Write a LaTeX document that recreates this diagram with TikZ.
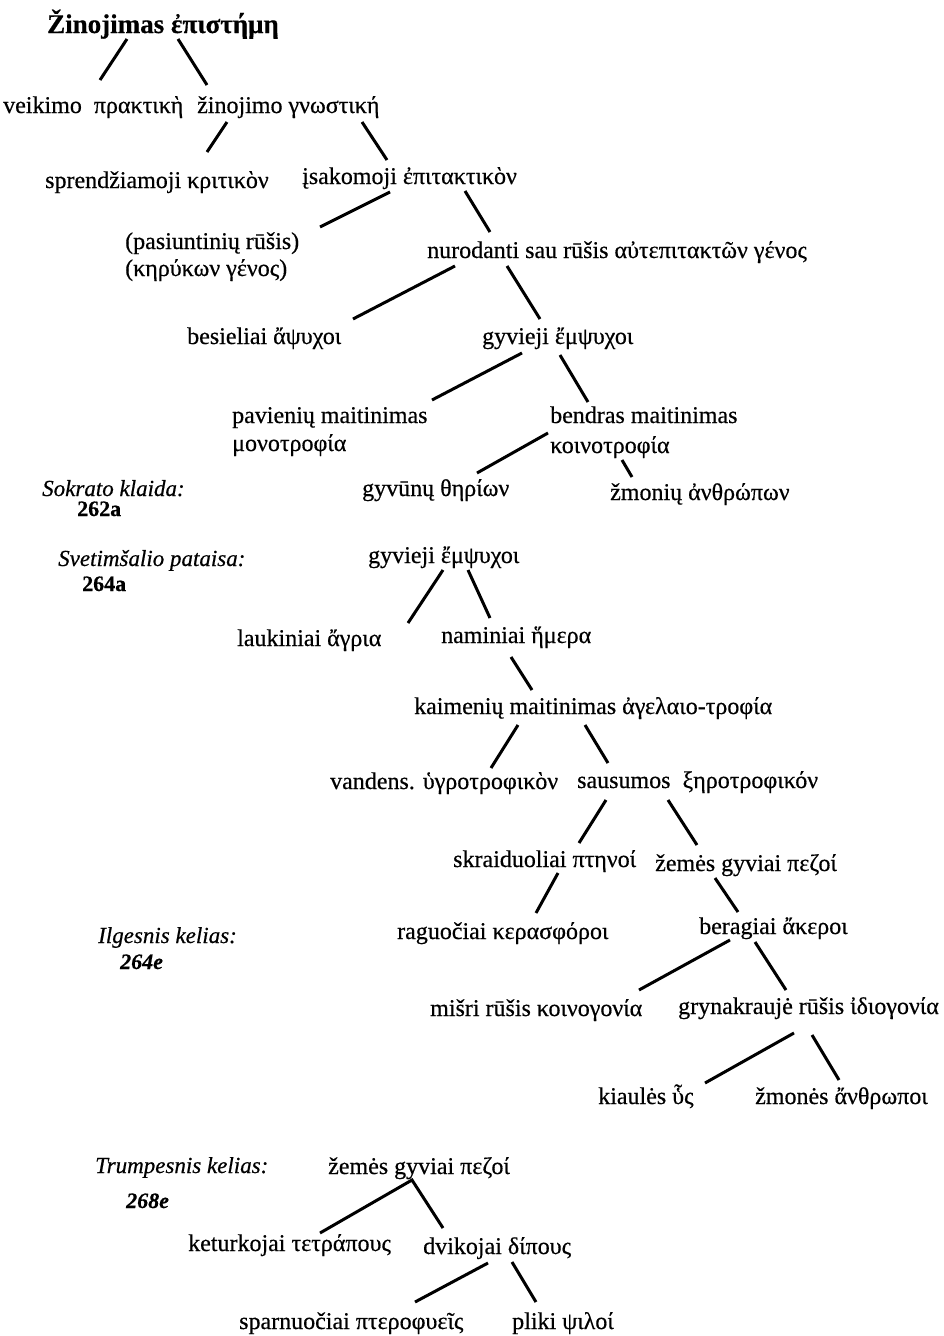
\documentclass[tikz,border=0pt]{standalone}
\usepackage{fontspec}
\setmainfont{Liberation Serif}[FakeBold=0.5]
\usetikzlibrary{positioning}

\begin{document}
\begin{tikzpicture}[x=1pt,y=-1pt,
   every node/.style={inner sep=0pt,anchor=base west},
   txt/.style={font=\fontsize{24}{28}\selectfont},
   ttl/.style={font=\fontsize{27}{31}\selectfont\bfseries},
   lbl/.style={font=\fontsize{23}{27}\selectfont\itshape},
   num/.style={font=\fontsize{22}{26}\selectfont\bfseries},
   branch/.style={line width=3pt}]

\useasboundingbox (0,0) rectangle (944,1336);

\node[ttl] (episteme) at (47,33) {Žinojimas ἐπιστήμη};
\node[txt] (praktike) at (3,113) {veikimo\ \ πρακτικὴ};
\node[txt] (gnostike) at (197,113) {žinojimo γνωστική};
\node[txt] (kritikon) at (45,188) {sprendžiamoji κριτικὸν};
\node[txt] (epitaktikon) at (302,184) {įsakomoji ἐπιτακτικὸν};
\node[txt] (keryx) at (125,249) {(pasiuntinių rūšis)};
\node[txt] (keryx2) at ([yshift=-27pt]keryx.base west) {(κηρύκων γένος)};
\node[txt] (autepi) at (427,258) {nurodanti sau rūšis αὐτεπιτακτῶν γένος};
\node[txt] (apsychoi) at (187,344) {besieliai ἄψυχοι};
\node[txt] (empsychoi) at (482,344) {gyvieji ἔμψυχοι};
\node[txt] (monotr) at (232,423) {pavienių maitinimas};
\node[txt] (monotr2) at ([yshift=-28pt]monotr.base west) {μονοτροφία};
\node[txt] (koinotr) at (550,423) {bendras maitinimas};
\node[txt] (koinotr2) at ([yshift=-30pt]koinotr.base west) {κοινοτροφία};
\node[txt] (therion) at (362,496) {gyvūnų θηρίων};
\node[txt] (anthropon) at (610,500) {žmonių ἀνθρώπων};

\node[lbl] (sokrates) at (42,496) {Sokrato klaida:};
\node[num] (sokratesref) at (77,516) {262a};
\node[lbl] (xenos) at (58,566) {Svetimšalio pataisa:};
\node[num] (xenosref) at (82,591) {264a};

\node[txt] (empsychoiB) at (368,563) {gyvieji ἔμψυχοι};
\node[txt] (agria) at (237,646) {laukiniai ἄγρια};
\node[txt] (hemera) at (441,643) {naminiai ἥμερα};
\node[txt] (agelaio) at (414,714) {kaimenių maitinimas ἀγελαιο-τροφία};
\node[txt] (hygro) at (330,789) {vandens. ὑγροτροφικὸν};
\node[txt] (xero) at (577,788) {sausumos\ \ ξηροτροφικόν};
\node[txt] (ptenoi) at (453,867) {skraiduoliai πτηνοί};
\node[txt] (pezoi) at (655,871) {žemės gyviai πεζοί};
\node[txt] (kerasph) at (397,939) {raguočiai κερασφόροι};
\node[txt] (akeroi) at (699,934) {beragiai ἄκεροι};
\node[txt] (koinog) at (430,1016) {mišri rūšis κοινογονία};
\node[txt] (idiog) at (678,1014) {grynakraujė rūšis ἰδιογονία};
\node[txt] (hys) at (598,1104) {kiaulės ὗς};
\node[txt] (anthropoi) at (755,1104) {žmonės ἄνθρωποι};

\node[lbl] (longway) at (98,943) {Ilgesnis kelias:};
\node[num] (longwayref) at (120,969) {\itshape 264e};
\node[lbl] (shortway) at (95,1173) {Trumpesnis kelias:};
\node[num] (shortwayref) at (126,1208) {\itshape 268e};

\node[txt] (pezoiB) at (328,1174) {žemės gyviai πεζοί};
\node[txt] (tetrapous) at (188,1251) {keturkojai τετράπους};
\node[txt] (dipous) at (423,1254) {dvikojai δίπους};
\node[txt] (pterophy) at (239,1329) {sparnuočiai πτεροφυεῖς};
\node[txt] (psiloi) at (512,1329) {pliki ψιλοί};

\draw[branch] ([shift={(80,6)}]episteme.base west) -- ([shift={(97,-33)}]praktike.base west);
\draw[branch] ([shift={(131,6)}]episteme.base west) -- ([shift={(10,-28)}]gnostike.base west);
\draw[branch] ([shift={(30,9)}]gnostike.base west) -- ([shift={(162,-36)}]kritikon.base west);
\draw[branch] ([shift={(165,9)}]gnostike.base west) -- ([shift={(85,-24)}]epitaktikon.base west);
\draw[branch] ([shift={(88,8)}]epitaktikon.base west) -- ([shift={(195,-22)}]keryx.base west);
\draw[branch] ([shift={(163,7)}]epitaktikon.base west) -- ([shift={(63,-26)}]autepi.base west);
\draw[branch] ([shift={(28,8)}]autepi.base west) -- ([shift={(166,-25)}]apsychoi.base west);
\draw[branch] ([shift={(80,8)}]autepi.base west) -- ([shift={(58,-25)}]empsychoi.base west);
\draw[branch] ([shift={(40,9)}]empsychoi.base west) -- ([shift={(200,-23)}]monotr.base west);
\draw[branch] ([shift={(78,11)}]empsychoi.base west) -- ([shift={(38,-21)}]koinotr.base west);
\draw[branch] ([shift={(-2,10)}]koinotr.base west) -- ([shift={(115,-23)}]therion.base west);
\draw[branch] ([shift={(72,37)}]koinotr.base west) -- ([shift={(22,-23)}]anthropon.base west);

\draw[branch] ([shift={(75,7)}]empsychoiB.base west) -- ([shift={(171,-23)}]agria.base west);
\draw[branch] ([shift={(100,7)}]empsychoiB.base west) -- ([shift={(49,-25)}]hemera.base west);
\draw[branch] ([shift={(70,14)}]hemera.base west) -- ([shift={(118,-24)}]agelaio.base west);
\draw[branch] ([shift={(104,11)}]agelaio.base west) -- ([shift={(161,-21)}]hygro.base west);
\draw[branch] ([shift={(171,11)}]agelaio.base west) -- ([shift={(31,-25)}]xero.base west);
\draw[branch] ([shift={(29,12)}]xero.base west) -- ([shift={(126,-24)}]ptenoi.base west);
\draw[branch] ([shift={(91,12)}]xero.base west) -- ([shift={(42,-26)}]pezoi.base west);
\draw[branch] ([shift={(105,6)}]ptenoi.base west) -- ([shift={(139,-26)}]kerasph.base west);
\draw[branch] ([shift={(60,7)}]pezoi.base west) -- ([shift={(39,-22)}]akeroi.base west);
\draw[branch] ([shift={(31,6)}]akeroi.base west) -- ([shift={(209,-26)}]koinog.base west);
\draw[branch] ([shift={(56,8)}]akeroi.base west) -- ([shift={(108,-24)}]idiog.base west);
\draw[branch] ([shift={(116,19)}]idiog.base west) -- ([shift={(107,-21)}]hys.base west);
\draw[branch] ([shift={(134,21)}]idiog.base west) -- ([shift={(84,-24)}]anthropoi.base west);

\draw[branch] ([shift={(132,-18)}]tetrapous.base west) -- ([shift={(84,6)}]pezoiB.base west)
   -- ([shift={(20,-26)}]dipous.base west);
\draw[branch] ([shift={(65,9)}]dipous.base west) -- ([shift={(176,-27)}]pterophy.base west);
\draw[branch] ([shift={(89,8)}]dipous.base west) -- ([shift={(24,-27)}]psiloi.base west);

\end{tikzpicture}
\end{document}
